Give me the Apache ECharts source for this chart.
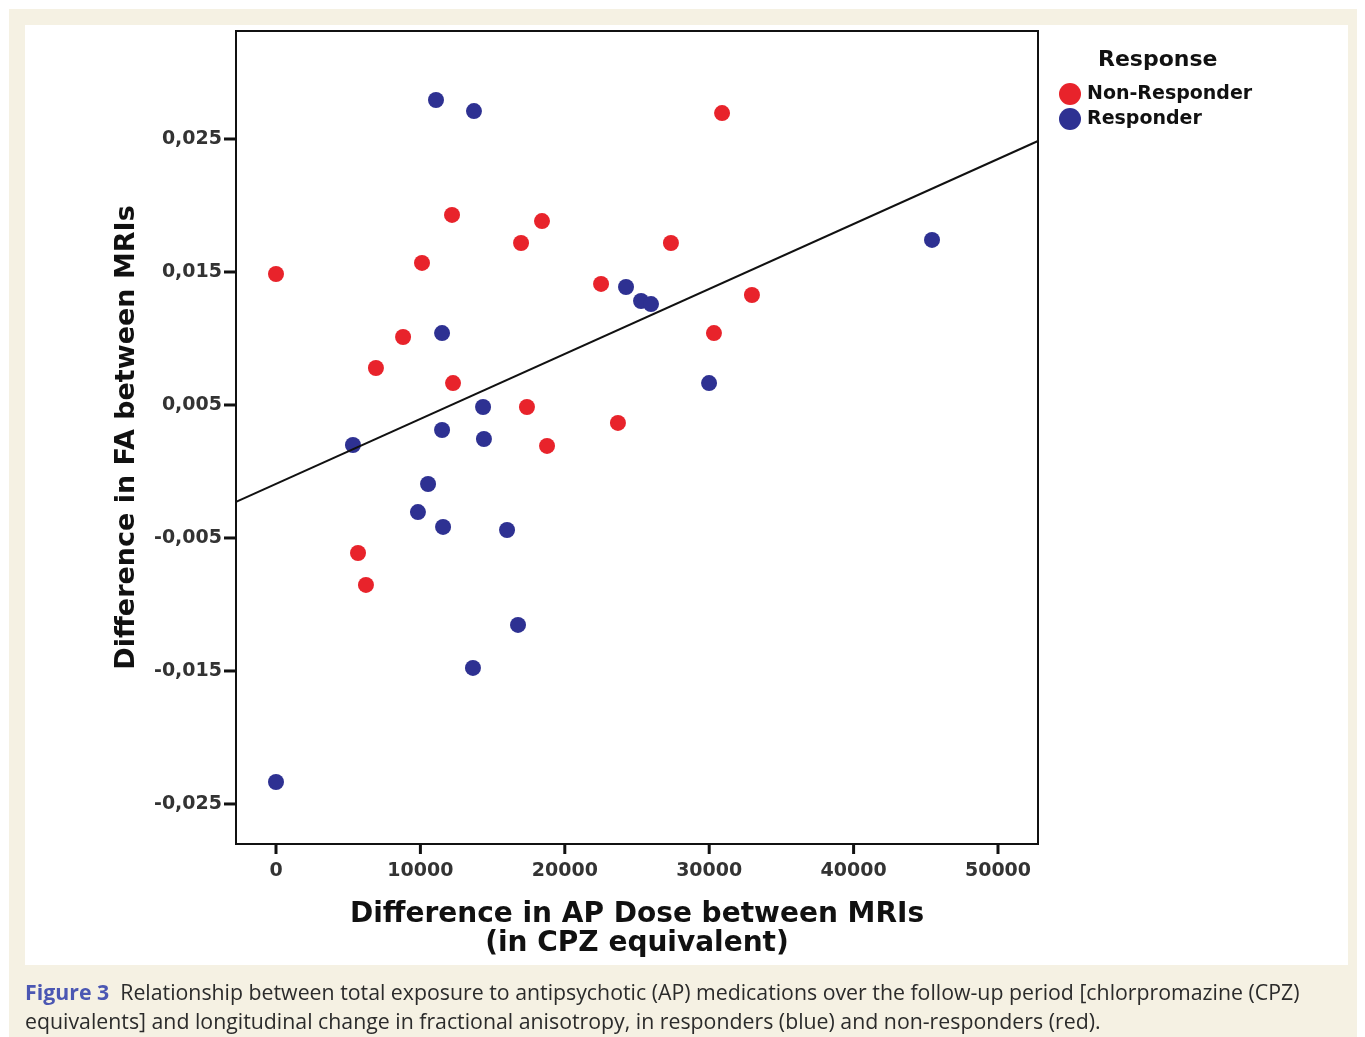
<!DOCTYPE html>
<html>
<head>
<meta charset="utf-8">
<script src="https://cdn.jsdelivr.net/npm/echarts@6/dist/echarts.min.js"></script>
<style>
  html, body { margin: 0; padding: 0; background: #fff; }
  .beige { position: absolute; left: 9px; top: 9px; width: 1348px; height: 1028px; background: #f5f1e3; }
  .panel { position: absolute; left: 25px; top: 25px; width: 1323px; height: 940px; background: #fff; }
  #chart { position: absolute; left: 0; top: 0; width: 1365px; height: 1037px; }
</style>
</head>
<body>
<div class="beige"></div>
<div class="panel"></div>
<div id="chart"></div>
<script>
// values: [AP dose difference, FA difference]
const nonResponder = [
  [0, 0.01485], [30890, 0.02695], [12190, 0.01929], [18420, 0.01883],
  [16970, 0.01718], [27350, 0.01718], [10110, 0.01568], [22510, 0.0141],
  [32960, 0.01327], [8800, 0.01011], [30330, 0.01041], [6920, 0.00778],
  [12260, 0.00665], [17380, 0.00485], [23680, 0.00365], [18770, 0.00192],
  [5680, -0.00613], [6230, -0.00853]
]
const responder = [
  [11080, 0.02793], [13710, 0.0271], [45430, 0.01741], [24240, 0.01387],
  [25280, 0.01282], [25970, 0.01259], [11500, 0.01041], [29990, 0.00665],
  [14340, 0.00485], [11500, 0.00312], [14400, 0.00244], [5330, 0.00199],
  [10530, -0.00094], [9830, -0.00305], [11570, -0.00417], [16000, -0.0044],
  [16760, -0.01154], [13640, -0.01477], [0, -0.02335]
]
// fitted line end points as drawn in the figure
const fitLine = [[-2770, -0.00228], [52770, 0.02485]]
const xTicks = [0, 10000, 20000, 30000, 40000, 50000]
const yTicks = [-0.025, -0.015, -0.005, 0.005, 0.015, 0.025]
const xMin = -2770, xMax = 52770
const yMin = -0.02801, yMax = 0.03312

const font = 'DejaVu Sans'
const myChart = echarts.init(document.getElementById('chart'))

// tick marks drawn as small rects on the axis edges
const tickSeries = (data, size, offset) => ({
  type: 'scatter',
  silent: true,
  clip: false,
  symbol: 'rect',
  symbolSize: size,
  symbolOffset: offset,
  itemStyle: {color: '#111', opacity: 1},
  data: data,
  z: 2
})

myChart.setOption({
  backgroundColor: 'transparent',
  animation: false,
  graphic: [
    {
      type: 'text', left: 1098, top: 49,
      style: {text: 'Response', font: 'bold 22px ' + font, fill: '#111'}
    },
    {
      type: 'text', left: 25, top: 979,
      style: {
        text: '{b|Figure 3}  Relationship between total exposure to antipsychotic (AP) medications over the follow-up period [chlorpromazine (CPZ)\nequivalents] and longitudinal change in fractional anisotropy, in responders (blue) and non-responders (red).',
        font: '21.3px "Open Sans"',
        fill: '#2b2b2b',
        lineHeight: 29,
        rich: {
          b: {font: 'bold 21.3px "Open Sans"', fill: '#4b57b3'}
        }
      }
    }
  ],
  legend: {
    orient: 'vertical',
    left: 1059,
    top: 83,
    padding: 0,
    itemWidth: 22,
    itemHeight: 22,
    itemGap: 3,
    icon: 'circle',
    textStyle: {fontFamily: font, fontSize: 19, fontWeight: 'bold', color: '#111', padding: [0, 0, 0, 1]},
    data: ['Non-Responder', 'Responder']
  },
  grid: {
    left: 236,
    top: 31,
    width: 802,
    height: 813,
    show: true,
    borderColor: '#111',
    borderWidth: 2,
    backgroundColor: 'transparent'
  },
  xAxis: {
    type: 'value',
    min: xMin,
    max: xMax,
    name: 'Difference in AP Dose between MRIs\n(in CPZ equivalent)',
    nameLocation: 'middle',
    nameGap: 56,
    nameTextStyle: {fontFamily: font, fontSize: 28, fontWeight: 'bold', color: '#111', lineHeight: 29, verticalAlign: 'top'},
    axisLine: {show: true, onZero: false, lineStyle: {color: '#111', width: 2}},
    axisTick: {show: false},
    axisLabel: {
      fontFamily: font, fontSize: 19, fontWeight: 'bold', color: '#333', margin: 18,
      customValues: xTicks,
      formatter: (v) => String(v)
    },
    splitLine: {show: false}
  },
  yAxis: {
    type: 'value',
    min: yMin,
    max: yMax,
    name: 'Difference in FA between MRIs',
    nameLocation: 'middle',
    nameGap: 96,
    nameRotate: 90,
    nameTextStyle: {fontFamily: font, fontSize: 27, fontWeight: 'bold', color: '#111'},
    axisLine: {show: true, onZero: false, lineStyle: {color: '#111', width: 2}},
    axisTick: {show: false},
    axisLabel: {
      fontFamily: font, fontSize: 19, fontWeight: 'bold', color: '#333', margin: 14,
      customValues: yTicks,
      formatter: (v) => v.toFixed(3).replace('.', ',')
    },
    splitLine: {show: false}
  },
  series: [
    tickSeries(xTicks.map(v => [v, yMin]), [3, 10], [0, 5]),
    tickSeries(yTicks.map(v => [xMin, v]), [12, 3], [-6, 0]),
    {
      name: 'Non-Responder',
      type: 'scatter',
      symbolSize: 16,
      itemStyle: {color: '#e8232b', opacity: 1},
      data: nonResponder,
      z: 3
    },
    {
      name: 'Responder',
      type: 'scatter',
      symbolSize: 16,
      itemStyle: {color: '#2e3192', opacity: 1},
      data: responder,
      z: 3
    },
    {
      name: 'fit',
      type: 'line',
      symbol: 'none',
      silent: true,
      lineStyle: {color: '#111', width: 2},
      data: fitLine,
      z: 4
    }
  ]
})
</script>
</body>
</html>
